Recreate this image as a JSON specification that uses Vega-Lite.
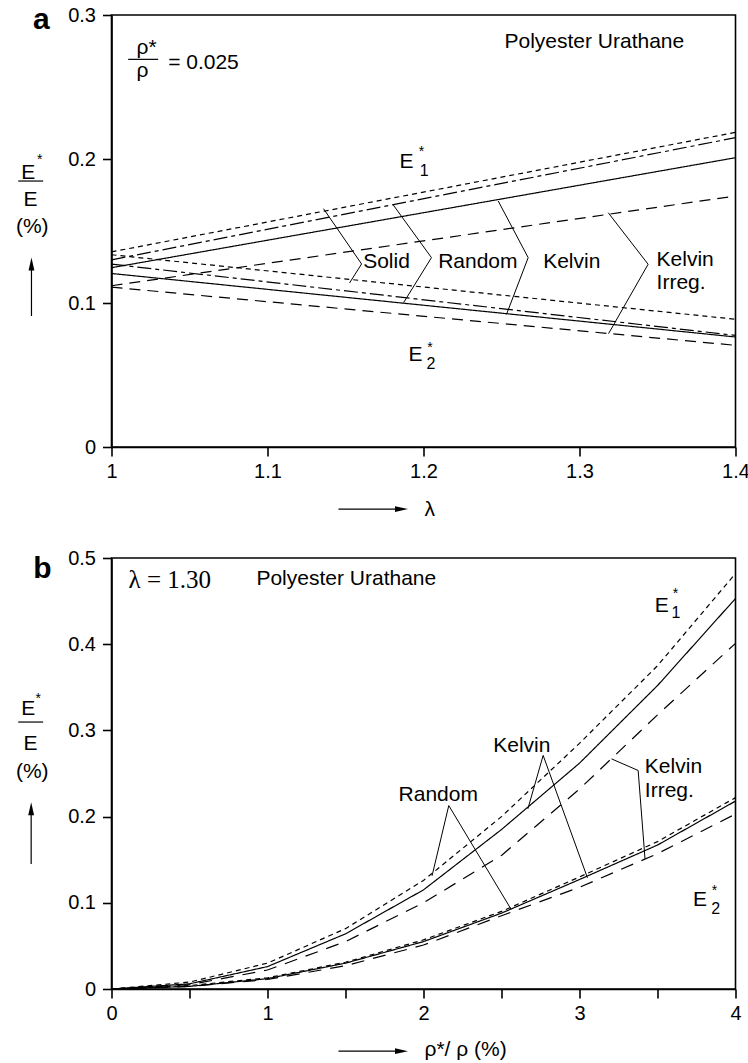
{
  "$schema": "https://vega.github.io/schema/vega-lite/v6.json",
  "autosize": {"type": "pad"},
  "padding": {"left": 14.5, "top": 4, "right": 0, "bottom": 0},
  "bounds": "flush",
  "spacing": 111,
  "resolve": {"scale": {"strokeDash": "independent"}},
  "config": {
    "view": {"stroke": "black", "strokeWidth": 1.6},
    "axis": {
      "domainColor": "black", "domainWidth": 1.6,
      "tickColor": "black", "tickWidth": 1.6, "tickSize": 9,
      "labelFont": "Liberation Sans", "labelFontSize": 20, "labelColor": "black",
      "labelPadding": 5, "grid": false, "labelFlush": false, "labelOverlap": false
    },
    "axisY": {"labelPadding": 7},
    "text": {"font": "Liberation Sans", "color": "black"},
    "line": {"color": "black"},
    "rule": {"color": "black"},
    "point": {"color": "black"}
  },
  "datasets": {
    "curvesA": [
      {"comp": "E1", "model": "Solid", "lam": 1, "val": 0.1355}, {"comp": "E1", "model": "Solid", "lam": 1.4, "val": 0.2185},
      {"comp": "E1", "model": "Random", "lam": 1, "val": 0.130}, {"comp": "E1", "model": "Random", "lam": 1.4, "val": 0.2148},
      {"comp": "E1", "model": "Kelvin", "lam": 1, "val": 0.1245}, {"comp": "E1", "model": "Kelvin", "lam": 1.4, "val": 0.2009},
      {"comp": "E1", "model": "Kelvin Irreg.", "lam": 1, "val": 0.112}, {"comp": "E1", "model": "Kelvin Irreg.", "lam": 1.4, "val": 0.1743},
      {"comp": "E2", "model": "Solid", "lam": 1, "val": 0.1335}, {"comp": "E2", "model": "Solid", "lam": 1.4, "val": 0.0887},
      {"comp": "E2", "model": "Random", "lam": 1, "val": 0.127}, {"comp": "E2", "model": "Random", "lam": 1.4, "val": 0.0775},
      {"comp": "E2", "model": "Kelvin", "lam": 1, "val": 0.1205}, {"comp": "E2", "model": "Kelvin", "lam": 1.4, "val": 0.0764},
      {"comp": "E2", "model": "Kelvin Irreg.", "lam": 1, "val": 0.111}, {"comp": "E2", "model": "Kelvin Irreg.", "lam": 1.4, "val": 0.0706}
    ],
    "bracketsA": [
      {"grp": "Solid", "k": 1, "lam": 1.1359, "val": 0.1655}, {"grp": "Solid", "k": 2, "lam": 1.1603, "val": 0.1271}, {"grp": "Solid", "k": 3, "lam": 1.1526, "val": 0.1139},
      {"grp": "Random", "k": 1, "lam": 1.1806, "val": 0.1681}, {"grp": "Random", "k": 2, "lam": 1.2051, "val": 0.1315}, {"grp": "Random", "k": 3, "lam": 1.1872, "val": 0.1002},
      {"grp": "Kelvin", "k": 1, "lam": 1.2479, "val": 0.1708}, {"grp": "Kelvin", "k": 2, "lam": 1.2671, "val": 0.1315}, {"grp": "Kelvin", "k": 3, "lam": 1.2532, "val": 0.0921},
      {"grp": "Kelvin Irreg.", "k": 1, "lam": 1.3184, "val": 0.1627}, {"grp": "Kelvin Irreg.", "k": 2, "lam": 1.344, "val": 0.1269}, {"grp": "Kelvin Irreg.", "k": 3, "lam": 1.3186, "val": 0.0787}
    ],
    "labelsA": [
      {"lam": 1.1613, "val": 0.1245, "txt": "Solid"},
      {"lam": 1.2094, "val": 0.1245, "txt": "Random"},
      {"lam": 1.2767, "val": 0.1245, "txt": "Kelvin"},
      {"lam": 1.3494, "val": 0.1255, "txt": "Kelvin"},
      {"lam": 1.3494, "val": 0.1097, "txt": "Irreg."},
      {"lam": 1.2519, "val": 0.2773, "txt": "Polyester Urathane"},
      {"lam": 1.0363, "val": 0.2628, "txt": "= 0.025"},
      {"lam": 1.016, "val": 0.2729, "txt": "ρ*"},
      {"lam": 1.016, "val": 0.2569, "txt": "ρ"},
      {"lam": 1.1846, "val": 0.194, "txt": "E"},
      {"lam": 1.1904, "val": 0.0597, "txt": "E"},
      {"lam": 1.2006, "val": -0.0479, "txt": "λ"}
    ],
    "subsA": [
      {"lam": 1.1976, "val": 0.1882, "txt": "1"},
      {"lam": 1.2019, "val": 0.054, "txt": "2"}
    ],
    "starsA": [
      {"lam": 1.1987, "val": 0.2023, "txt": "*"},
      {"lam": 1.2042, "val": 0.0662, "txt": "*"},
      {"lam": 0.954, "val": 0.1965, "txt": "*"}
    ],
    "titleA": [
      {"lam": 0.9466, "val": 0.1861, "txt": "E"},
      {"lam": 0.9481, "val": 0.1674, "txt": "E"},
      {"lam": 0.9492, "val": 0.1486, "txt": "(%)"}
    ],
    "rulesA": [
      {"lam": 0.9402, "lam2": 0.9562, "val": 0.1847, "val2": 0.1847},
      {"lam": 1.0107, "lam2": 1.0299, "val": 0.2692, "val2": 0.2692},
      {"lam": 0.9487, "lam2": 0.9487, "val": 0.127, "val2": 0.091},
      {"lam": 1.1455, "lam2": 1.1827, "val": -0.0431, "val2": -0.0431}
    ],
    "upA": [{"lam": 0.9487, "val": 0.127}],
    "rightA": [{"lam": 1.1859, "val": -0.0431}],
    "letterA": [{"lam": 0.9551, "val": 0.2901, "txt": "a"}],

    "curvesB": [
      {"comp": "E1", "model": "Random", "rho": 0, "val": 0}, {"comp": "E1", "model": "Random", "rho": 0.5, "val": 0.008},
      {"comp": "E1", "model": "Random", "rho": 1, "val": 0.030}, {"comp": "E1", "model": "Random", "rho": 1.5, "val": 0.070},
      {"comp": "E1", "model": "Random", "rho": 2, "val": 0.126}, {"comp": "E1", "model": "Random", "rho": 2.5, "val": 0.200},
      {"comp": "E1", "model": "Random", "rho": 3, "val": 0.285}, {"comp": "E1", "model": "Random", "rho": 3.5, "val": 0.375},
      {"comp": "E1", "model": "Random", "rho": 4, "val": 0.482},
      {"comp": "E1", "model": "Kelvin", "rho": 0, "val": 0}, {"comp": "E1", "model": "Kelvin", "rho": 0.5, "val": 0.006},
      {"comp": "E1", "model": "Kelvin", "rho": 1, "val": 0.026}, {"comp": "E1", "model": "Kelvin", "rho": 1.5, "val": 0.064},
      {"comp": "E1", "model": "Kelvin", "rho": 2, "val": 0.115}, {"comp": "E1", "model": "Kelvin", "rho": 2.5, "val": 0.185},
      {"comp": "E1", "model": "Kelvin", "rho": 3, "val": 0.262}, {"comp": "E1", "model": "Kelvin", "rho": 3.5, "val": 0.352},
      {"comp": "E1", "model": "Kelvin", "rho": 4, "val": 0.453},
      {"comp": "E1", "model": "Kelvin Irreg.", "rho": 0, "val": 0}, {"comp": "E1", "model": "Kelvin Irreg.", "rho": 0.5, "val": 0.005},
      {"comp": "E1", "model": "Kelvin Irreg.", "rho": 1, "val": 0.022}, {"comp": "E1", "model": "Kelvin Irreg.", "rho": 1.5, "val": 0.055},
      {"comp": "E1", "model": "Kelvin Irreg.", "rho": 2, "val": 0.100}, {"comp": "E1", "model": "Kelvin Irreg.", "rho": 2.5, "val": 0.155},
      {"comp": "E1", "model": "Kelvin Irreg.", "rho": 3, "val": 0.232}, {"comp": "E1", "model": "Kelvin Irreg.", "rho": 3.5, "val": 0.318},
      {"comp": "E1", "model": "Kelvin Irreg.", "rho": 4, "val": 0.401},
      {"comp": "E2", "model": "Random", "rho": 0, "val": 0}, {"comp": "E2", "model": "Random", "rho": 0.5, "val": 0.004},
      {"comp": "E2", "model": "Random", "rho": 1, "val": 0.013}, {"comp": "E2", "model": "Random", "rho": 1.5, "val": 0.031},
      {"comp": "E2", "model": "Random", "rho": 2, "val": 0.057}, {"comp": "E2", "model": "Random", "rho": 2.5, "val": 0.090},
      {"comp": "E2", "model": "Random", "rho": 3, "val": 0.130}, {"comp": "E2", "model": "Random", "rho": 3.5, "val": 0.171},
      {"comp": "E2", "model": "Random", "rho": 4, "val": 0.222},
      {"comp": "E2", "model": "Kelvin", "rho": 0, "val": 0}, {"comp": "E2", "model": "Kelvin", "rho": 0.5, "val": 0.003},
      {"comp": "E2", "model": "Kelvin", "rho": 1, "val": 0.012}, {"comp": "E2", "model": "Kelvin", "rho": 1.5, "val": 0.030},
      {"comp": "E2", "model": "Kelvin", "rho": 2, "val": 0.055}, {"comp": "E2", "model": "Kelvin", "rho": 2.5, "val": 0.088},
      {"comp": "E2", "model": "Kelvin", "rho": 3, "val": 0.127}, {"comp": "E2", "model": "Kelvin", "rho": 3.5, "val": 0.167},
      {"comp": "E2", "model": "Kelvin", "rho": 4, "val": 0.218},
      {"comp": "E2", "model": "Kelvin Irreg.", "rho": 0, "val": 0}, {"comp": "E2", "model": "Kelvin Irreg.", "rho": 0.5, "val": 0.003},
      {"comp": "E2", "model": "Kelvin Irreg.", "rho": 1, "val": 0.011}, {"comp": "E2", "model": "Kelvin Irreg.", "rho": 1.5, "val": 0.027},
      {"comp": "E2", "model": "Kelvin Irreg.", "rho": 2, "val": 0.051}, {"comp": "E2", "model": "Kelvin Irreg.", "rho": 2.5, "val": 0.085},
      {"comp": "E2", "model": "Kelvin Irreg.", "rho": 3, "val": 0.118}, {"comp": "E2", "model": "Kelvin Irreg.", "rho": 3.5, "val": 0.157},
      {"comp": "E2", "model": "Kelvin Irreg.", "rho": 4, "val": 0.203}
    ],
    "bracketsB": [
      {"grp": "Random", "k": 1, "rho": 2.055, "val": 0.1314}, {"grp": "Random", "k": 2, "rho": 2.162, "val": 0.2128}, {"grp": "Random", "k": 3, "rho": 2.561, "val": 0.0926},
      {"grp": "Kelvin", "k": 1, "rho": 2.669, "val": 0.209}, {"grp": "Kelvin", "k": 2, "rho": 2.767, "val": 0.271}, {"grp": "Kelvin", "k": 3, "rho": 3.051, "val": 0.129},
      {"grp": "Kelvin Irreg.", "k": 1, "rho": 3.205, "val": 0.267}, {"grp": "Kelvin Irreg.", "k": 2, "rho": 3.376, "val": 0.2535}, {"grp": "Kelvin Irreg.", "k": 3, "rho": 3.42, "val": 0.1508}
    ],
    "labelsB": [
      {"rho": 1.840, "val": 0.2186, "txt": "Random"},
      {"rho": 2.447, "val": 0.2748, "txt": "Kelvin"},
      {"rho": 3.419, "val": 0.2507, "txt": "Kelvin"},
      {"rho": 3.419, "val": 0.2227, "txt": "Irreg."},
      {"rho": 0.929, "val": 0.4686, "txt": "Polyester Urathane"},
      {"rho": 3.483, "val": 0.4376, "txt": "E"},
      {"rho": 3.727, "val": 0.0965, "txt": "E"},
      {"rho": 2.006, "val": -0.0779, "txt": "ρ*/ ρ (%)"}
    ],
    "serifB": [{"rho": 0.109, "val": 0.4655, "txt": "λ = 1.30"}],
    "subsB": [
      {"rho": 3.59, "val": 0.4299, "txt": "1"},
      {"rho": 3.844, "val": 0.0869, "txt": "2"}
    ],
    "starsB": [
      {"rho": 3.615, "val": 0.4535, "txt": "*"},
      {"rho": 3.865, "val": 0.1093, "txt": "*"},
      {"rho": -0.470, "val": 0.3314, "txt": "*"}
    ],
    "titleB": [
      {"rho": -0.534, "val": 0.3174, "txt": "E"},
      {"rho": -0.519, "val": 0.2767, "txt": "E"},
      {"rho": -0.508, "val": 0.2453, "txt": "(%)"}
    ],
    "rulesB": [
      {"rho": -0.598, "rho2": -0.438, "val": 0.3097, "val2": 0.3097},
      {"rho": -0.515, "rho2": -0.515, "val": 0.2091, "val2": 0.145},
      {"rho": 1.455, "rho2": 1.827, "val": -0.0721, "val2": -0.0721}
    ],
    "upB": [{"rho": -0.515, "val": 0.2091}],
    "rightB": [{"rho": 1.859, "val": -0.0721}],
    "letterB": [{"rho": -0.4423, "val": 0.4768, "txt": "b"}]
  },
  "vconcat": [
    {
      "width": 624,
      "height": 432,
      "layer": [
        {
          "data": {"name": "curvesA"},
          "mark": {"type": "line", "strokeWidth": 1.2},
          "encoding": {
            "x": {"field": "lam", "type": "quantitative",
                  "scale": {"domain": [1, 1.4], "nice": false, "zero": false},
                  "axis": {"values": [1, 1.1, 1.2, 1.3, 1.4], "format": "~g", "title": null}},
            "y": {"field": "val", "type": "quantitative",
                  "scale": {"domain": [0, 0.3], "nice": false, "zero": false},
                  "axis": {"values": [0, 0.1, 0.2, 0.3], "format": "~g", "title": null}},
            "detail": {"field": "comp"},
            "strokeDash": {"field": "model", "type": "nominal", "legend": null,
                           "scale": {"domain": ["Solid", "Random", "Kelvin", "Kelvin Irreg."],
                                     "range": [[5, 4], [14, 4, 4, 4], [1, 0], [11, 7]]}}
          }
        },
        {
          "data": {"name": "bracketsA"},
          "mark": {"type": "line", "strokeWidth": 1},
          "encoding": {
            "x": {"field": "lam", "type": "quantitative"},
            "y": {"field": "val", "type": "quantitative"},
            "detail": {"field": "grp"},
            "order": {"field": "k"}
          }
        },
        {
          "data": {"name": "labelsA"},
          "mark": {"type": "text", "fontSize": 21, "align": "left", "baseline": "alphabetic"},
          "encoding": {
            "x": {"field": "lam", "type": "quantitative"},
            "y": {"field": "val", "type": "quantitative"},
            "text": {"field": "txt"}
          }
        },
        {
          "data": {"name": "subsA"},
          "mark": {"type": "text", "fontSize": 16, "align": "left", "baseline": "alphabetic"},
          "encoding": {
            "x": {"field": "lam", "type": "quantitative"},
            "y": {"field": "val", "type": "quantitative"},
            "text": {"field": "txt"}
          }
        },
        {
          "data": {"name": "starsA"},
          "mark": {"type": "text", "fontSize": 14, "align": "center", "baseline": "alphabetic"},
          "encoding": {
            "x": {"field": "lam", "type": "quantitative"},
            "y": {"field": "val", "type": "quantitative"},
            "text": {"field": "txt"}
          }
        },
        {
          "data": {"name": "titleA"},
          "mark": {"type": "text", "fontSize": 21, "align": "center", "baseline": "alphabetic"},
          "encoding": {
            "x": {"field": "lam", "type": "quantitative"},
            "y": {"field": "val", "type": "quantitative"},
            "text": {"field": "txt"}
          }
        },
        {
          "data": {"name": "rulesA"},
          "mark": {"type": "rule", "strokeWidth": 1.2},
          "encoding": {
            "x": {"field": "lam", "type": "quantitative"},
            "x2": {"field": "lam2"},
            "y": {"field": "val", "type": "quantitative"},
            "y2": {"field": "val2"}
          }
        },
        {
          "data": {"name": "upA"},
          "mark": {"type": "point", "filled": true, "opacity": 1, "size": 169, "shape": "M0,-1L0.45,1L-0.45,1Z"},
          "encoding": {
            "x": {"field": "lam", "type": "quantitative"},
            "y": {"field": "val", "type": "quantitative"}
          }
        },
        {
          "data": {"name": "rightA"},
          "mark": {"type": "point", "filled": true, "opacity": 1, "size": 169, "shape": "M1,0L-1,-0.45L-1,0.45Z"},
          "encoding": {
            "x": {"field": "lam", "type": "quantitative"},
            "y": {"field": "val", "type": "quantitative"}
          }
        },
        {
          "data": {"name": "letterA"},
          "mark": {"type": "text", "fontSize": 30, "fontWeight": "bold", "align": "center", "baseline": "alphabetic"},
          "encoding": {
            "x": {"field": "lam", "type": "quantitative"},
            "y": {"field": "val", "type": "quantitative"},
            "text": {"field": "txt"}
          }
        }
      ]
    },
    {
      "width": 624,
      "height": 431,
      "layer": [
        {
          "data": {"name": "curvesB"},
          "mark": {"type": "line", "strokeWidth": 1.2},
          "encoding": {
            "x": {"field": "rho", "type": "quantitative",
                  "scale": {"domain": [0, 4], "nice": false, "zero": false},
                  "axis": {"values": [0, 0.5, 1, 1.5, 2, 2.5, 3, 3.5, 4], "format": "~g", "title": null,
                           "labelExpr": "datum.value % 1 === 0 ? datum.label : ''"}},
            "y": {"field": "val", "type": "quantitative",
                  "scale": {"domain": [0, 0.5], "nice": false, "zero": false},
                  "axis": {"values": [0, 0.1, 0.2, 0.3, 0.4, 0.5], "format": "~g", "title": null}},
            "detail": {"field": "comp"},
            "strokeDash": {"field": "model", "type": "nominal", "legend": null,
                           "scale": {"domain": ["Random", "Kelvin", "Kelvin Irreg."],
                                     "range": [[5, 4], [1, 0], [13, 9]]}}
          }
        },
        {
          "data": {"name": "bracketsB"},
          "mark": {"type": "line", "strokeWidth": 1},
          "encoding": {
            "x": {"field": "rho", "type": "quantitative"},
            "y": {"field": "val", "type": "quantitative"},
            "detail": {"field": "grp"},
            "order": {"field": "k"}
          }
        },
        {
          "data": {"name": "labelsB"},
          "mark": {"type": "text", "fontSize": 21, "align": "left", "baseline": "alphabetic"},
          "encoding": {
            "x": {"field": "rho", "type": "quantitative"},
            "y": {"field": "val", "type": "quantitative"},
            "text": {"field": "txt"}
          }
        },
        {
          "data": {"name": "serifB"},
          "mark": {"type": "text", "fontSize": 25, "font": "Liberation Serif", "align": "left", "baseline": "alphabetic"},
          "encoding": {
            "x": {"field": "rho", "type": "quantitative"},
            "y": {"field": "val", "type": "quantitative"},
            "text": {"field": "txt"}
          }
        },
        {
          "data": {"name": "subsB"},
          "mark": {"type": "text", "fontSize": 16, "align": "left", "baseline": "alphabetic"},
          "encoding": {
            "x": {"field": "rho", "type": "quantitative"},
            "y": {"field": "val", "type": "quantitative"},
            "text": {"field": "txt"}
          }
        },
        {
          "data": {"name": "starsB"},
          "mark": {"type": "text", "fontSize": 14, "align": "center", "baseline": "alphabetic"},
          "encoding": {
            "x": {"field": "rho", "type": "quantitative"},
            "y": {"field": "val", "type": "quantitative"},
            "text": {"field": "txt"}
          }
        },
        {
          "data": {"name": "titleB"},
          "mark": {"type": "text", "fontSize": 21, "align": "center", "baseline": "alphabetic"},
          "encoding": {
            "x": {"field": "rho", "type": "quantitative"},
            "y": {"field": "val", "type": "quantitative"},
            "text": {"field": "txt"}
          }
        },
        {
          "data": {"name": "rulesB"},
          "mark": {"type": "rule", "strokeWidth": 1.2},
          "encoding": {
            "x": {"field": "rho", "type": "quantitative"},
            "x2": {"field": "rho2"},
            "y": {"field": "val", "type": "quantitative"},
            "y2": {"field": "val2"}
          }
        },
        {
          "data": {"name": "upB"},
          "mark": {"type": "point", "filled": true, "opacity": 1, "size": 169, "shape": "M0,-1L0.45,1L-0.45,1Z"},
          "encoding": {
            "x": {"field": "rho", "type": "quantitative"},
            "y": {"field": "val", "type": "quantitative"}
          }
        },
        {
          "data": {"name": "rightB"},
          "mark": {"type": "point", "filled": true, "opacity": 1, "size": 169, "shape": "M1,0L-1,-0.45L-1,0.45Z"},
          "encoding": {
            "x": {"field": "rho", "type": "quantitative"},
            "y": {"field": "val", "type": "quantitative"}
          }
        },
        {
          "data": {"name": "letterB"},
          "mark": {"type": "text", "fontSize": 30, "fontWeight": "bold", "align": "center", "baseline": "alphabetic"},
          "encoding": {
            "x": {"field": "rho", "type": "quantitative"},
            "y": {"field": "val", "type": "quantitative"},
            "text": {"field": "txt"}
          }
        }
      ]
    }
  ]
}
